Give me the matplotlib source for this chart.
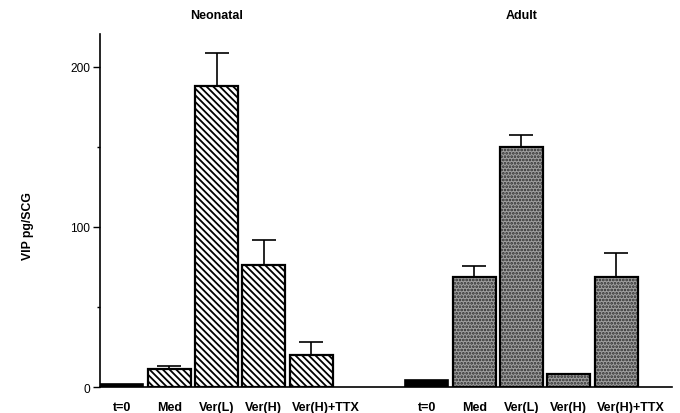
import matplotlib
matplotlib.use("Agg")
import matplotlib.pyplot as plt
import matplotlib.transforms as mtransforms
import numpy as np

plt.rcParams['font.family'] = ['Liberation Sans', 'DejaVu Sans']
plt.rcParams['hatch.linewidth'] = 1.3

conditions = ["t=0", "Med", "Ver(L)", "Ver(H)", "Ver(H)+TTX"]
neonatal_mean = [2, 11, 188, 76, 20]
neonatal_err = [0, 2, 21, 16, 8]
adult_mean = [4.5, 69, 150, 8, 68.5]
adult_err = [0, 6.5, 7.5, 0, 15.5]
group_titles = ["Neonatal", "Adult"]

fig = plt.figure(figsize=(6.8, 4.14), dpi=100)
ax = fig.add_axes([0.147, 0.0628, 0.841, 0.8527])

neo_x = np.arange(5, dtype=float)
adu_x = neo_x + 6.45
width = 0.91

def draw_group(xs, means, errs, face, hatch, hcolor):
    for i, (x, m, e) in enumerate(zip(xs, means, errs)):
        if i == 0:
            ax.bar(x, m, width, color='black', edgecolor='black', linewidth=1.2)
        else:
            ax.bar(x, m, width, facecolor=face, edgecolor=hcolor, hatch=hatch, linewidth=0)
            ax.bar(x, m, width, facecolor='none', edgecolor='black', linewidth=1.6)
        if e > 0:
            ax.errorbar(x, m, yerr=[[0], [e]], fmt='none', ecolor='black',
                        elinewidth=1.2, capsize=8.3, capthick=1.2)

draw_group(neo_x, neonatal_mean, neonatal_err, 'white', '\\' * 5, 'black')
draw_group(adu_x, adult_mean, adult_err, '#a0a0a0', '.....', '#2a2a2a')

ax.set_xlim(-0.465, 11.63)
ax.set_ylim(0, 220.6)
ax.spines['top'].set_visible(False)
ax.spines['right'].set_visible(False)
ax.spines['left'].set_linewidth(1.2)
ax.spines['bottom'].set_linewidth(1.2)

ax.set_yticks([0, 100, 200])
ax.set_yticks([50, 150], minor=True)
ax.tick_params(axis='y', which='both', direction='out', length=5, width=1, labelsize=8.6, pad=2)
ax.tick_params(axis='y', which='minor', length=2)

ax.set_xticks(list(neo_x) + list(adu_x))
ax.set_xticklabels(conditions + conditions, fontweight='bold', fontsize=9)
ax.tick_params(axis='x', length=0, pad=10)

# the long last label of each group sits a little to the right of its bar
shift = mtransforms.ScaledTranslation(0.15, 0, fig.dpi_scale_trans)
for lbl in ax.get_xticklabels():
    if lbl.get_text() == "Ver(H)+TTX":
        lbl.set_transform(lbl.get_transform() + shift)

ax.set_ylabel("VIP pg/SCG", fontweight='bold', fontsize=8.8, labelpad=0)
ax.yaxis.set_label_coords(-0.115, 0.458)

for xs, title in zip([neo_x, adu_x], group_titles):
    ax.text(xs[2], 1.054, title, transform=ax.get_xaxis_transform(),
            ha='center', va='center', fontweight='bold', fontsize=9)

fig.savefig("out.png", dpi=100)
